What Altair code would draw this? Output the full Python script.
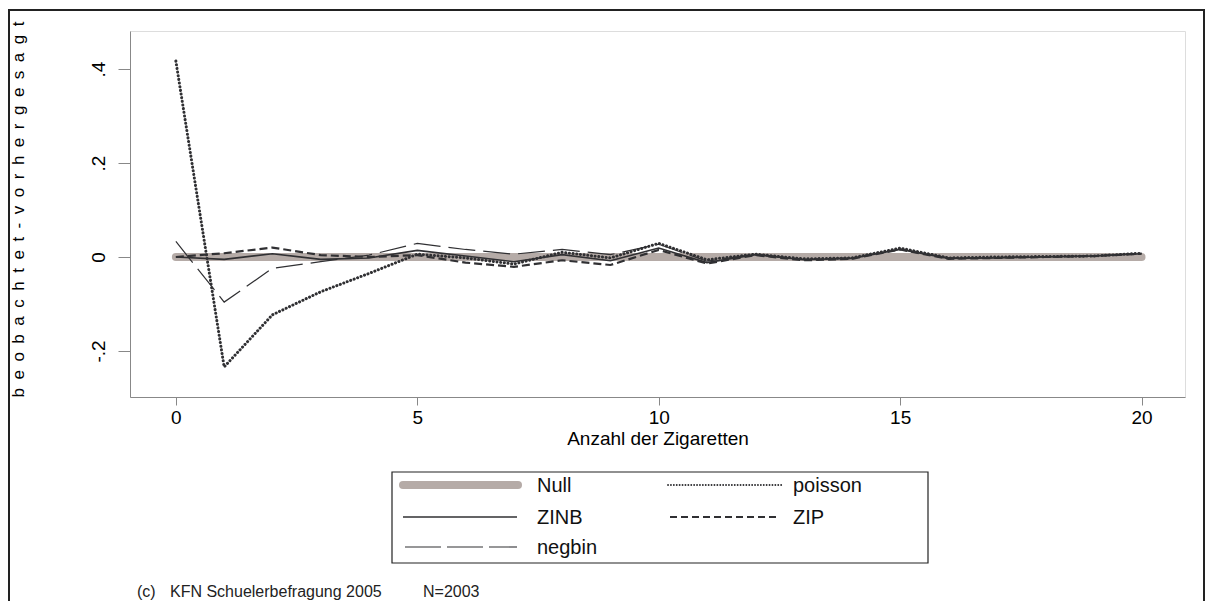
import altair as alt
import pandas as pd

# ---- data ----
anzahl = list(range(0, 21))
null_vals = [0.0] * 21
poisson = [0.417, -0.234, -0.123, -0.074, -0.035, 0.006, -0.002, -0.015, 0.010, -0.002,
           0.029, -0.006, 0.006, -0.004, -0.002, 0.019, -0.002, 0.0, 0.001, 0.002, 0.008]
zinb = [0.0, -0.005, 0.007, -0.005, -0.002, 0.014, 0.002, -0.010, 0.005, -0.008,
        0.019, -0.012, 0.005, -0.006, -0.003, 0.016, -0.003, -0.002, 0.0, 0.002, 0.007]
zip_vals = [0.0, 0.008, 0.020, 0.004, 0.0, 0.004, -0.012, -0.021, -0.007, -0.017,
            0.015, -0.014, 0.004, -0.007, -0.004, 0.016, -0.004, -0.002, 0.0, 0.002, 0.007]
negbin = [0.033, -0.096, -0.024, -0.010, 0.004, 0.029, 0.016, 0.006, 0.016, 0.005,
          0.027, -0.009, 0.006, -0.005, -0.002, 0.017, -0.002, -0.001, 0.001, 0.002, 0.008]

models = ["Null", "poisson", "ZINB", "ZIP", "negbin"]
x_ticks = [0, 5, 10, 15, 20]
y_ticks = [-0.2, 0, 0.2, 0.4]
y_tick_labels = ["-.2", "0", ".2", ".4"]
x_title = "Anzahl der Zigaretten"
y_title = "\u2002".join("beobachtet-vorhergesagt")
foot_c = "(c)"
foot_src = "KFN Schuelerbefragung 2005"
foot_n = "N=2003"

series = {"Null": null_vals, "poisson": poisson, "ZINB": zinb, "ZIP": zip_vals, "negbin": negbin}
rows = []
for m in models:
    for xv, yv in zip(anzahl, series[m]):
        rows.append({"model": m, "x": xv, "y": yv})
df = pd.DataFrame(rows)

# ---- styles ----
FONT = "Liberation Sans"
DARK = "#303033"
GRAY = "#b5aba7"
style = {
    "Null":    dict(stroke=GRAY, strokeWidth=8, strokeCap="round"),
    "ZINB":    dict(stroke=DARK, strokeWidth=1.6),
    "negbin":  dict(stroke=DARK, strokeWidth=1.2, strokeDash=[27, 8]),
    "ZIP":     dict(stroke=DARK, strokeWidth=2.2, strokeDash=[8, 4]),
    "poisson": dict(stroke=DARK, strokeWidth=3, strokeDash=[0.1, 3.6], strokeCap="round"),
}
legend_style = {
    "Null":    dict(stroke=GRAY, strokeWidth=8, strokeCap="round"),
    "ZINB":    dict(stroke=DARK, strokeWidth=1.3),
    "negbin":  dict(stroke=DARK, strokeWidth=1.1, strokeDash=[36, 6]),
    "ZIP":     dict(stroke=DARK, strokeWidth=1.8, strokeDash=[7, 4]),
    "poisson": dict(stroke=DARK, strokeWidth=1.8, strokeDash=[0.1, 2.8], strokeCap="round"),
}

W, H = 1055, 366
PL, PT = 122, 23
TOTAL_W, TOTAL_H = 1197, 593

label_expr = " : ".join(
    [f"datum.value == {v} ? '{l}'" for v, l in zip(y_ticks, y_tick_labels)] + ["''"]
)

x_enc = alt.X("x:Q", scale=alt.Scale(domain=[-0.95, 20.9], nice=False, zero=False),
              axis=alt.Axis(values=x_ticks, format="d", title=x_title, grid=False,
                            tickSize=8, labelPadding=3, labelFontSize=19, titleFontSize=19,
                            titlePadding=2, titleFontWeight="normal"))
y_enc = alt.Y("y:Q", scale=alt.Scale(domain=[-0.298, 0.481], nice=False, zero=False),
              axis=alt.Axis(values=y_ticks, labelExpr=label_expr, title=y_title, grid=False,
                            tickSize=12, labelAngle=270, labelPadding=10, labelFontSize=19,
                            titleFontSize=17, titleFontWeight="normal", titleAngle=270,
                            titleX=-107, titleY=H / 2 - 5, titleAlign="center",
                            titleBaseline="alphabetic"))

base = alt.Chart(df)
layers = []
for m in ["Null", "ZINB", "negbin", "ZIP", "poisson"]:
    layers.append(
        base.transform_filter(f"datum.model == '{m}'").mark_line(**style[m]).encode(x=x_enc, y=y_enc)
    )

one = pd.DataFrame({"k": [0]})

# legend (manual): column / row slots
legend_slots = {
    "Null": (273, 388, 407, 454),
    "poisson": (538, 652, 663, 454),
    "ZINB": (273, 387, 407, 486),
    "ZIP": (540, 647, 663, 486),
    "negbin": (275, 387, 407, 516),
}
for m in models:
    x1, x2, tx, ty = legend_slots[m]
    layers.append(alt.Chart(one).mark_rule(**legend_style[m]).encode(
        x=alt.value(x1), x2=alt.value(x2), y=alt.value(ty)))
    layers.append(alt.Chart(one).mark_text(align="left", baseline="middle", font=FONT,
                                           fontSize=20, color="#111").encode(
        x=alt.value(tx), y=alt.value(ty + 1), text=alt.value(m)))

layers.append(alt.Chart(one).mark_rect(fill=None, stroke="#222", strokeWidth=1.2).encode(
    x=alt.value(262), x2=alt.value(798), y=alt.value(441), y2=alt.value(532)))
layers.append(alt.Chart(one).mark_rect(fill=None, stroke="#222", strokeWidth=2).encode(
    x=alt.value(-PL + 1), x2=alt.value(TOTAL_W - PL - 1), y=alt.value(-PT + 2), y2=alt.value(700)))

for txt, xv in [(foot_c, 7), (foot_src, 40), (foot_n, 293)]:
    layers.append(alt.Chart(one).mark_text(align="left", baseline="middle", font=FONT,
                                           fontSize=16, color="#222").encode(
        x=alt.value(xv), y=alt.value(561), text=alt.value(txt)))

chart = alt.layer(*layers).properties(
    width=W, height=H,
    autosize=alt.AutoSizeParams(type="none"),
    padding={"left": PL, "top": PT, "right": TOTAL_W - PL - W, "bottom": TOTAL_H - PT - H},
).configure_view(stroke=None).configure_axis(
    domainColor="#222", domainWidth=1.5, tickColor="#222", tickWidth=1.5,
    labelFont=FONT, titleFont=FONT, labelColor="#111", titleColor="#111",
).configure(background="white")

chart.save("out.html", embed_options={"renderer": "svg", "actions": False})
